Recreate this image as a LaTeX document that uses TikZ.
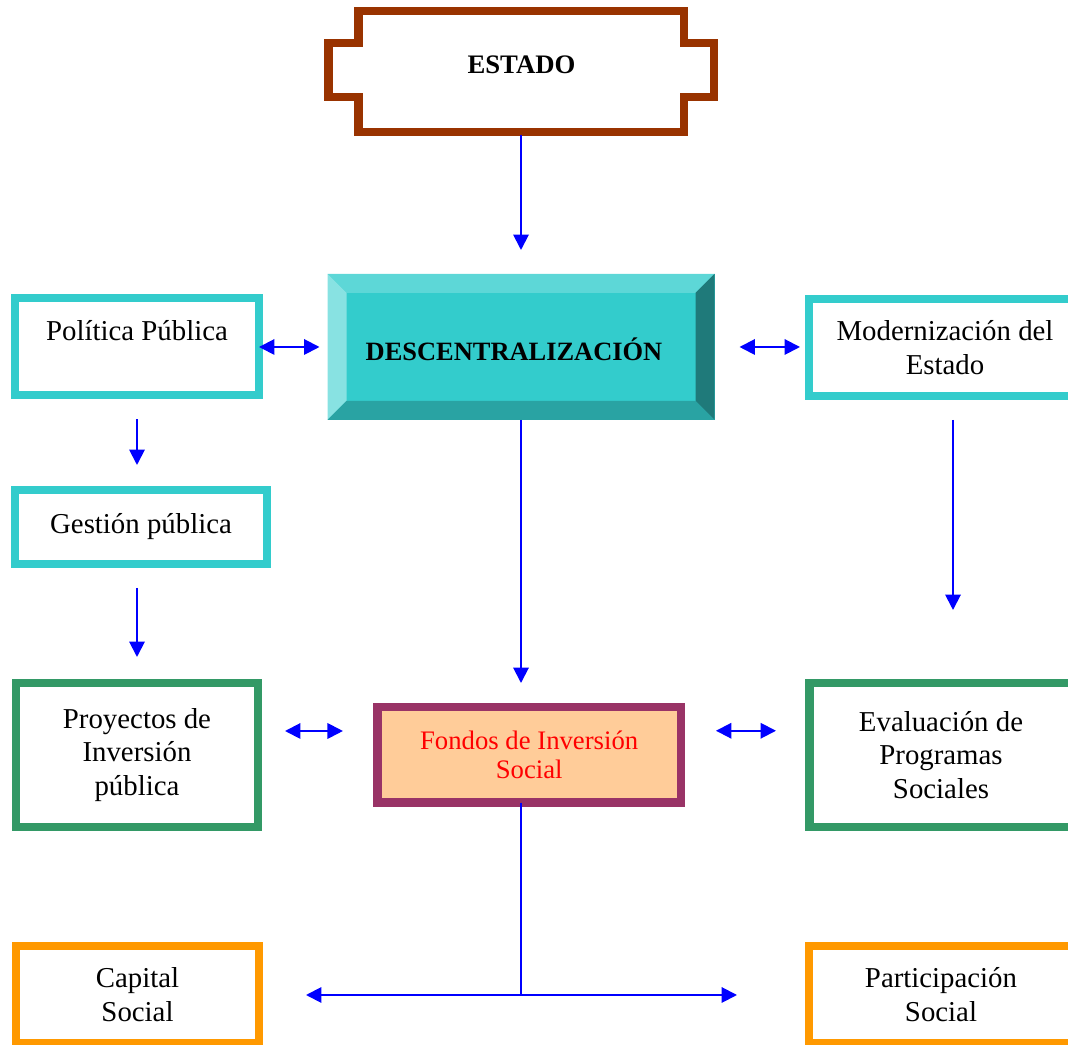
\documentclass[tikz,border=0pt]{standalone}
\usepackage{fontspec}
\setmainfont{Liberation Serif}
\usetikzlibrary{arrows.meta}

\definecolor{estadobrown}{HTML}{993300}
\definecolor{boxcyan}{HTML}{33CCCC}
\definecolor{boxgreen}{HTML}{339966}
\definecolor{boxorange}{HTML}{FF9900}
\definecolor{fondosrim}{HTML}{993366}
\definecolor{fondosfill}{HTML}{FFCC99}
\definecolor{bevelmid}{HTML}{33CCCC}
\definecolor{beveltop}{HTML}{5DD7D7}
\definecolor{bevelleft}{HTML}{88E2E2}
\definecolor{bevelright}{HTML}{1F7A7A}
\definecolor{bevelbottom}{HTML}{29A3A3}
\definecolor{linkblue}{HTML}{0000FF}

\begin{document}
\begin{tikzpicture}[
		every node/.style={rectangle, inner sep=0pt, outer sep=0pt, align=center, font=\fontsize{20.5}{23.8}\selectfont},
		cyanbox/.style={draw=boxcyan, line width=5.7pt},
		greenbox/.style={draw=boxgreen, line width=5.9pt},
		orangebox/.style={draw=boxorange, line width=5pt},
		link/.style={draw=linkblue, line width=1.4pt, -{Triangle[length=11pt, width=11pt]}},
		both/.style={link, {Triangle[length=11pt, width=11pt]}-{Triangle[length=11pt, width=11pt]}},
		wire/.style={draw=linkblue, line width=1.4pt}
	]
  \useasboundingbox (0cm, 0cm) rectangle (26.7cm, 26.125cm);

  % top block
  \node (estado) [minimum width=8.125cm, minimum height=3.025cm] at (13.025cm, 24.3375cm) {};
  \draw [estadobrown, line width=5.7pt] (estado.north west) -- (estado.north east) -- ++(0, -0.8) -- ++(0.75, 0) -- ++(0, -1.35) -- ++(-0.75, 0) -- (estado.south east) -- (estado.south west) -- ++(0, 0.875) -- ++(-0.75, 0) -- ++(0, 1.35) -- ++(0.75, 0) -- cycle;
  \node (estado_label) [font=\fontsize{19}{22}\selectfont\bfseries] at (13.0375cm, 24.5cm) {ESTADO};

  \node (desc) [fill=bevelmid, minimum width=9.675cm, minimum height=3.65cm] at (13.025cm, 17.45cm) {};
  \fill [beveltop] (desc.north west) -- (desc.north east) -- ([shift={(-0.475, -0.475)}]desc.north east) -- ([shift={(0.475, -0.475)}]desc.north west) -- cycle;
  \fill [bevelleft] (desc.north west) -- ([shift={(0.475, -0.475)}]desc.north west) -- ([shift={(0.475, 0.475)}]desc.south west) -- (desc.south west) -- cycle;
  \fill [bevelright] (desc.north east) -- ([shift={(-0.475, -0.475)}]desc.north east) -- ([shift={(-0.475, 0.475)}]desc.south east) -- (desc.south east) -- cycle;
  \fill [bevelbottom] (desc.south west) -- ([shift={(0.475, 0.475)}]desc.south west) -- ([shift={(-0.475, 0.475)}]desc.south east) -- (desc.south east) -- cycle;
  \node (desc_label) [font=\fontsize{18.8}{22}\selectfont\bfseries] at (12.85cm, 17.4cm) {DESCENTRALIZACIÓN};

  % side boxes
  \node (pol) [cyanbox, minimum width=6.1cm, minimum height=2.425cm] at (3.425cm, 17.45cm) {Política Pública\\[-0.25cm]\strut};
  \node (mod) [cyanbox, minimum width=6.8cm, minimum height=2.425cm] at (23.625cm, 17.4375cm) {Modernización del\\Estado};
  \node (gest) [cyanbox, minimum width=6.3cm, minimum height=1.85cm] at (3.525cm, 12.95cm) {Gestión pública};

  \node (proy) [greenbox, minimum width=6.05cm, minimum height=3.6cm] at (3.425cm, 7.25cm) {Proyectos de\\Inversión\\pública};
  \node (fondos) [draw=fondosrim, fill=fondosfill, line width=6pt, minimum width=7.5875cm, minimum height=2.3875cm, text=red, font=\fontsize{19}{20.6}\selectfont] at (13.23cm, 7.256cm) {Fondos de Inversión\\Social};
  \node (eval) [greenbox, minimum width=6.575cm, minimum height=3.6cm] at (23.525cm, 7.25cm) {Evaluación de\\Programas\\Sociales};

  \node (cap) [orangebox, minimum width=6.075cm, minimum height=2.425cm] at (3.4375cm, 1.2625cm) {Capital\\Social};
  \node (part) [orangebox, minimum width=6.6cm, minimum height=2.425cm] at (23.525cm, 1.2625cm) {Participación\\Social};

  % connectors
  \draw [link, shorten <=0.075cm, shorten >=0.6cm] (estado.south) -- (desc.north);
  \draw [both, shorten >=0.2cm] (pol.east) -- (desc.west);
  \draw [both, shorten <=0.625cm, shorten >=0.225cm] (desc.east) -- (desc.east -| mod.west);
  \draw [link, shorten <=0.6cm, shorten >=0.625cm] (pol.south) -- (pol.south |- gest.north);
  \draw [link, shorten <=0.6cm, shorten >=0.65cm] (proy.north |- gest.south) -- (proy.north);
  \draw [both, shorten <=0.675cm, shorten >=0.8625cm] ([yshift=0.6cm]proy.east) -- ([yshift=0.6cm]proy.east -| fondos.west);
  \draw [both, shorten <=0.875cm, shorten >=0.8375cm] ([yshift=0.6cm]fondos.east) -- ([yshift=0.6cm]fondos.east -| eval.west);
  \draw [link, shorten >=0.6cm] (desc.south) -- (desc.south |- fondos.north);
  \draw [link, shorten <=0.6cm, shorten >=1.825cm] ([xshift=0.2cm]mod.south) -- ([xshift=0.2cm]mod.south |- eval.north);

  \coordinate (split) at (13.025cm, 1.25cm);
  \draw [wire] (split |- fondos.south) -- (split);
  \draw [link, shorten >=1.175cm] (split) -- (split -| cap.east);
  \draw [link, shorten >=1.8cm] (split) -- (split -| part.west);
\end{tikzpicture}
\end{document}
